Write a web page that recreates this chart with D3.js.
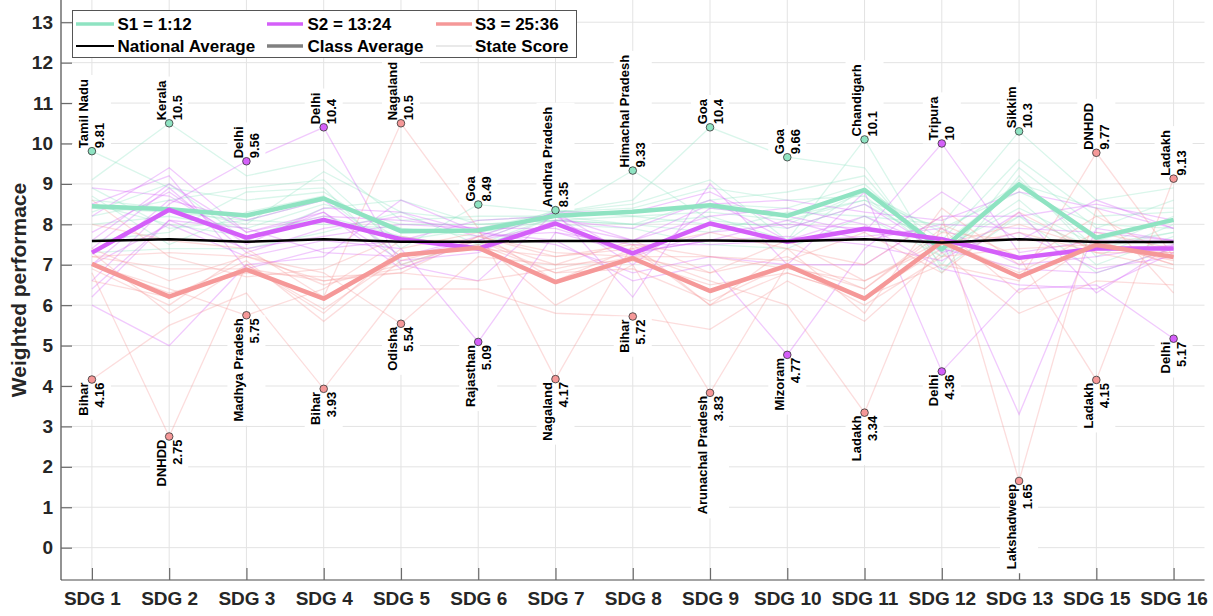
<!DOCTYPE html>
<html>
<head>
<meta charset="utf-8">
<script src="https://cdn.jsdelivr.net/npm/d3@7"></script>
<style>
  html, body { margin: 0; padding: 0; background: #fff; }
  svg { display: block; font-family: "Liberation Sans", Arial, Helvetica, sans-serif; }
</style>
</head>
<body>
<svg id="chart" width="1213" height="616"></svg>
<script>
// ---------------- DATA ----------------
const sdgLabels = ["SDG 1","SDG 2","SDG 3","SDG 4","SDG 5","SDG 6","SDG 7","SDG 8",
                   "SDG 9","SDG 10","SDG 11","SDG 12","SDG 13","SDG 15","SDG 16"];
const yTickValues = [0,1,2,3,4,5,6,7,8,9,10,11,12,13];

// class averages (thick lines)
const s1Avg = [8.45, 8.37, 8.22, 8.64, 7.83, 7.85, 8.21, 8.31, 8.47, 8.21, 8.85, 7.38, 8.99, 7.67, 8.11];
const s2Avg = [7.30, 8.36, 7.67, 8.11, 7.63, 7.40, 8.02, 7.28, 8.02, 7.57, 7.89, 7.63, 7.17, 7.40, 7.40];
const s3Avg = [7.02, 6.21, 6.88, 6.16, 7.24, 7.42, 6.57, 7.16, 6.35, 6.98, 6.16, 7.57, 6.70, 7.49, 7.19];
const nationalAvg = [7.59, 7.63, 7.57, 7.63, 7.57, 7.57, 7.59, 7.59, 7.60, 7.58, 7.63, 7.55, 7.63, 7.56, 7.56];

// class 1 (states 1:12)
const s1Names = ["Tamil Nadu","Kerala","Goa","Andhra Pradesh","Himachal Pradesh","Chandigarh",
                 "Sikkim","Puducherry","Uttarakhand","Telangana","Karnataka","Gujarat"];
const s1Scores = [
  [9.81, 8.9, 8.6, 8.8, 7.6, 7.9, 8.3, 8.4, 8.9, 8.6, 8.7, 7.2, 9.1, 7.4, 8.2],
  [9.1, 10.5, 9.2, 9.6, 8.1, 8.2, 8.2, 8.0, 8.6, 8.8, 9.2, 7.0, 9.4, 7.9, 8.6],
  [8.2, 8.6, 8.9, 9.1, 7.4, 8.49, 8.3, 8.6, 10.4, 9.66, 9.4, 6.8, 9.2, 7.2, 8.0],
  [8.9, 7.9, 8.1, 8.0, 7.9, 7.7, 8.35, 8.2, 8.3, 8.1, 8.6, 7.9, 8.8, 8.0, 7.9],
  [8.6, 8.4, 8.0, 9.3, 8.3, 8.1, 8.2, 9.33, 8.1, 7.9, 8.5, 7.5, 9.0, 8.4, 8.4],
  [7.6, 7.8, 8.8, 8.9, 7.0, 7.6, 8.3, 8.5, 9.1, 7.6, 10.1, 6.9, 8.2, 6.8, 7.4],
  [8.3, 9.0, 7.6, 8.4, 8.6, 8.0, 8.1, 8.0, 7.8, 8.3, 8.2, 8.0, 10.3, 8.6, 8.9],
  [8.7, 7.5, 8.3, 8.7, 7.2, 7.5, 8.2, 8.3, 8.5, 8.4, 9.0, 7.3, 8.6, 7.0, 7.7],
  [8.0, 8.2, 7.9, 8.5, 8.0, 8.0, 8.1, 8.0, 8.2, 7.6, 8.9, 7.6, 9.6, 8.2, 8.3],
  [8.5, 8.0, 7.7, 8.2, 7.7, 7.4, 8.2, 8.3, 8.4, 8.2, 8.6, 7.4, 8.4, 7.5, 7.8],
  [8.4, 8.3, 8.1, 8.6, 7.9, 7.8, 8.1, 8.2, 8.0, 8.0, 8.8, 7.8, 9.0, 7.6, 8.1],
  [7.3, 7.4, 7.4, 7.8, 8.3, 7.5, 8.0, 7.9, 7.5, 7.4, 8.2, 7.2, 8.2, 7.4, 7.8]
];

// class 2 (states 13:24)
const s2Names = ["Delhi","Rajasthan","Mizoram","Tripura","Maharashtra","Punjab","West Bengal",
                 "Haryana","Manipur","Jammu & Kashmir","Andaman & Nicobar","Chhattisgarh"];
const s2Scores = [
  [6.6, 8.5, 9.56, 10.4, 7.0, 6.6, 8.3, 6.2, 9.0, 7.0, 8.8, 4.36, 6.4, 6.5, 5.17],
  [7.0, 8.0, 7.2, 7.6, 7.4, 5.09, 7.8, 7.5, 7.5, 7.6, 7.7, 7.9, 7.0, 7.2, 7.5],
  [7.8, 8.8, 7.5, 8.4, 8.3, 7.8, 7.6, 6.6, 7.0, 4.77, 7.4, 8.8, 7.6, 8.6, 7.9],
  [7.6, 9.0, 7.8, 8.2, 8.1, 7.9, 8.2, 7.0, 8.4, 8.2, 7.8, 10.0, 7.3, 7.6, 7.6],
  [7.0, 8.6, 8.1, 8.6, 7.2, 7.6, 8.3, 8.3, 8.8, 7.9, 8.5, 7.3, 7.8, 6.9, 7.2],
  [8.2, 9.4, 7.8, 8.3, 6.9, 7.6, 8.0, 7.6, 8.2, 8.4, 8.0, 6.9, 6.5, 6.4, 7.3],
  [6.2, 8.1, 7.4, 7.7, 8.0, 7.9, 7.9, 7.3, 7.6, 8.1, 7.6, 8.0, 7.9, 7.8, 7.6],
  [8.9, 8.7, 7.6, 8.3, 7.1, 7.3, 8.1, 7.9, 8.6, 7.6, 8.2, 7.4, 6.9, 6.8, 7.4],
  [6.0, 5.0, 7.0, 7.2, 8.6, 7.8, 7.5, 6.8, 7.2, 7.0, 7.0, 8.2, 8.2, 8.5, 8.1],
  [7.4, 8.9, 7.3, 7.9, 8.2, 7.7, 8.3, 7.2, 7.8, 8.0, 7.9, 7.6, 3.3, 7.9, 7.6],
  [8.5, 9.2, 6.9, 7.4, 7.6, 8.1, 8.2, 7.6, 8.5, 8.6, 8.3, 8.1, 8.8, 8.4, 7.9],
  [6.4, 8.1, 7.9, 7.3, 7.2, 7.7, 7.8, 7.3, 7.6, 7.7, 7.5, 7.1, 8.3, 6.3, 7.5]
];

// class 3 (states 25:36)
const s3Names = ["Bihar","DNHDD","Madhya Pradesh","Nagaland","Odisha","Arunachal Pradesh",
                 "Ladakh","Lakshadweep","Uttar Pradesh","Jharkhand","Assam","Meghalaya"];
const s3Scores = [
  [4.16, 5.5, 6.3, 3.93, 6.4, 6.4, 5.8, 5.72, 5.4, 6.6, 5.6, 7.3, 5.8, 6.6, 6.5],
  [6.8, 2.75, 7.0, 5.8, 7.4, 7.8, 6.6, 7.4, 6.0, 6.8, 6.2, 7.0, 6.6, 9.77, 7.2],
  [7.0, 6.4, 5.75, 6.4, 7.6, 7.6, 6.8, 7.2, 6.8, 7.2, 6.4, 7.8, 7.6, 7.6, 7.0],
  [8.0, 7.6, 7.4, 6.2, 10.5, 7.9, 4.17, 7.5, 6.0, 7.4, 5.8, 8.4, 7.0, 8.2, 7.2],
  [7.4, 6.6, 7.2, 6.8, 5.54, 7.2, 7.0, 7.6, 6.8, 7.6, 6.6, 7.6, 6.8, 7.8, 7.4],
  [6.6, 6.2, 7.1, 5.6, 7.1, 7.6, 6.0, 7.0, 3.83, 7.0, 6.4, 7.9, 6.3, 7.6, 7.0],
  [7.2, 6.9, 6.9, 6.6, 6.8, 6.6, 6.9, 7.3, 6.6, 6.0, 3.34, 8.0, 7.2, 4.15, 9.13],
  [8.6, 7.2, 6.7, 6.9, 7.7, 7.4, 7.2, 7.4, 7.8, 7.4, 7.0, 8.2, 1.65, 8.4, 6.3],
  [6.9, 6.0, 7.3, 6.5, 7.0, 7.6, 7.0, 7.1, 6.5, 6.8, 6.2, 7.4, 7.8, 7.3, 6.9],
  [7.3, 5.8, 7.0, 5.9, 7.2, 7.5, 6.8, 6.9, 6.1, 7.0, 6.0, 7.2, 7.4, 7.5, 7.1],
  [7.0, 6.3, 6.8, 6.7, 6.8, 7.7, 7.2, 7.5, 7.2, 6.9, 6.6, 7.5, 8.0, 7.4, 7.3],
  [7.2, 7.3, 7.2, 6.6, 6.9, 7.7, 7.3, 7.2, 7.2, 7.1, 7.8, 6.8, 8.3, 7.3, 7.3]
];

const legendLabels = ["S1 = 1:12", "S2 = 13:24", "S3 = 25:36", "National Average", "Class Average", "State Score"];

// ---------------- STYLE ----------------
const classColors = ["#8fe3c2", "#d45ff9", "#f59898"];
const svg = d3.select("#chart");
const plotL = 61, plotR = 1204.5, plotT = 0, plotB = 580;

const x = d3.scaleLinear().domain([-0.4, sdgLabels.length - 1 + 0.4]).range([plotL, plotR]);
const y = d3.scaleLinear().domain([-0.8, 13.55]).range([plotB, plotT]);

// grid
const grid = svg.append("g");
grid.selectAll("line.h").data(yTickValues).enter().append("line")
  .attr("x1", plotL).attr("x2", plotR)
  .attr("y1", d => y(d)).attr("y2", d => y(d))
  .attr("stroke", "#e3e3e3").attr("stroke-width", 1);
grid.selectAll("line.v").data(sdgLabels).enter().append("line")
  .attr("x1", (d, i) => x(i)).attr("x2", (d, i) => x(i))
  .attr("y1", plotT).attr("y2", plotB)
  .attr("stroke", "#e3e3e3").attr("stroke-width", 1);

const line = d3.line().x((d, i) => x(i)).y(d => y(d));

// state lines
const groups = [
  { names: s1Names, scores: s1Scores, color: classColors[0], avg: s1Avg },
  { names: s2Names, scores: s2Scores, color: classColors[1], avg: s2Avg },
  { names: s3Names, scores: s3Scores, color: classColors[2], avg: s3Avg }
];
const stateG = svg.append("g");
groups.forEach(g => {
  stateG.selectAll(null).data(g.scores).enter().append("path")
    .attr("d", line).attr("fill", "none")
    .attr("stroke", g.color).attr("stroke-width", 1.3).attr("stroke-opacity", 0.33);
});

// class averages
groups.forEach(g => {
  svg.append("path").attr("d", line(g.avg)).attr("fill", "none")
    .attr("stroke", g.color).attr("stroke-width", 4.5).attr("stroke-linejoin", "round");
});
// national average
svg.append("path").attr("d", line(nationalAvg)).attr("fill", "none")
  .attr("stroke", "#000").attr("stroke-width", 2.5);

// axes
const yAxis = d3.axisLeft(y).tickValues(yTickValues).tickSize(-11).tickPadding(8).tickFormat(d3.format("d"));
const yg = svg.append("g").attr("transform", `translate(${plotL},0)`).call(yAxis);
const xAxis = d3.axisBottom(x).tickValues(d3.range(sdgLabels.length)).tickSize(-12).tickPadding(12)
  .tickFormat(i => sdgLabels[i]);
const xg = svg.append("g").attr("transform", `translate(0,${plotB})`).call(xAxis);
[yg, xg].forEach(g => {
  g.select(".domain").attr("stroke", "#4a4a4a").attr("stroke-width", 1.2);
  g.selectAll(".tick line").attr("stroke", "#6a6a6a").attr("stroke-width", 1.2);
  g.selectAll(".tick text").attr("fill", "#262626").attr("font-size", 19).attr("font-weight", "bold")
    .attr("font-family", "'Liberation Sans', Arial, sans-serif");
});
yg.select(".domain").attr("d", `M0,${plotB}V${plotT}`);
xg.select(".domain").attr("d", `M${plotL},0H${plotR}`);

// y label
svg.append("text").attr("transform", `translate(26,${(plotT + plotB) / 2}) rotate(-90)`)
  .attr("text-anchor", "middle").attr("font-size", 21).attr("font-weight", "bold")
  .attr("fill", "#262626").text("Weighted performace");

// annotations: max and min per SDG
const allStates = [];
groups.forEach(g => g.scores.forEach((s, si) => allStates.push({ name: g.names[si], scores: s, color: g.color })));
const fmt = v => String(+v.toPrecision(3));
const annots = [];
sdgLabels.forEach((lab, j) => {
  const iMax = d3.maxIndex(allStates, s => s.scores[j]);
  const iMin = d3.minIndex(allStates, s => s.scores[j]);
  annots.push({ j, st: allStates[iMax], v: allStates[iMax].scores[j], up: true });
  annots.push({ j, st: allStates[iMin], v: allStates[iMin].scores[j], up: false });
});
const annG = svg.append("g").attr("font-size", 13).attr("font-weight", "bold").attr("fill", "#000");
const markG = svg.append("g");
annots.forEach(a => {
  const px = x(a.j), py = y(a.v);
  const off = 3;
  const g = annG.append("g");
  const rect = g.append("rect").attr("fill", "#fff");
  const anchor = a.up ? "start" : "end";
  const ty = a.up ? py - off : py + off;
  const t1 = g.append("text").attr("transform", `translate(${px - 8},${ty}) rotate(-90)`)
    .attr("text-anchor", anchor).attr("dominant-baseline", "central").text(a.st.name);
  const t2 = g.append("text").attr("transform", `translate(${px + 8},${ty}) rotate(-90)`)
    .attr("text-anchor", anchor).attr("dominant-baseline", "central").text(fmt(a.v));
  const len = Math.max(t1.node().getComputedTextLength(), t2.node().getComputedTextLength());
  if (a.up) {
    rect.attr("x", px - 19).attr("width", 38).attr("y", py - off - len - 4).attr("height", len + 4 + off);
  } else {
    rect.attr("x", px - 19).attr("width", 38).attr("y", py).attr("height", len + 4 + off);
  }
  markG.append("circle").attr("cx", px).attr("cy", py).attr("r", 3.8)
    .attr("fill", a.st.color).attr("stroke", "#333").attr("stroke-width", 0.8);
});
markG.raise();

// legend
const lg = svg.append("g");
lg.append("rect").attr("x", 72.5).attr("y", 10.5).attr("width", 504).attr("height", 47)
  .attr("fill", "#fff").attr("stroke", "#555").attr("stroke-width", 1);
const legendStyles = [
  { c: classColors[0], w: 3.5 }, { c: classColors[1], w: 3.5 }, { c: classColors[2], w: 3.5 },
  { c: "#000", w: 2.2 }, { c: "#808080", w: 3.5 }, { c: "#e2e2e2", w: 1.5 }
];
const colX = [[76, 114, 117.5], [267, 303, 307.5], [436, 472, 475]];
const rowY = [24, 46];
legendLabels.forEach((lab, i) => {
  const r = Math.floor(i / 3), c = i % 3;
  lg.append("line").attr("x1", colX[c][0]).attr("x2", colX[c][1])
    .attr("y1", rowY[r]).attr("y2", rowY[r])
    .attr("stroke", legendStyles[i].c).attr("stroke-width", legendStyles[i].w);
  lg.append("text").attr("x", colX[c][2]).attr("y", rowY[r]).attr("dominant-baseline", "central")
    .attr("font-size", 17).attr("font-weight", "bold").attr("fill", "#000").text(lab);
});
</script>
</body>
</html>
